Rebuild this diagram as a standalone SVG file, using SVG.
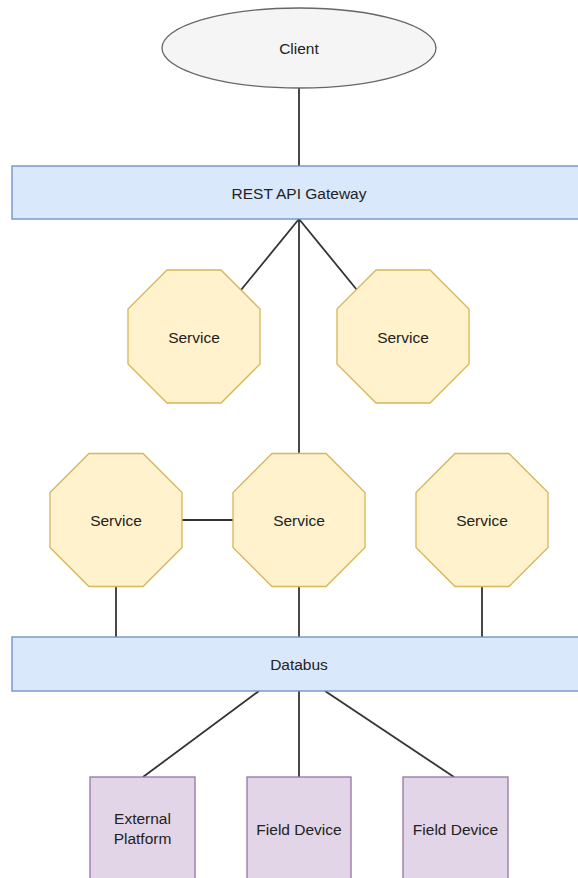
<svg xmlns="http://www.w3.org/2000/svg" xmlns:xlink="http://www.w3.org/1999/xlink" width="578" height="878" viewBox="0 0 578 878">
  <style>
    .lbl { font-family: "Liberation Sans", Arial, sans-serif; font-size: 15.5px; fill: #222222; text-anchor: middle; dominant-baseline: central; }
    .bus { fill: #dae8fc; stroke: #6c8ebf; stroke-width: 1.3; }
    .svc { fill: #fff2cc; stroke: #d6b656; stroke-width: 1.3; }
    .dev { fill: #e1d5e7; stroke: #9673a6; stroke-width: 1.3; }
    .client { fill: #f5f5f5; stroke: #666666; stroke-width: 1.3; }
    .edge { stroke: #333333; stroke-width: 1.8; fill: none; }
  </style>
  <defs>
    <!-- regular octagon, 132 x 133, centred on the origin -->
    <polygon id="octagon" points="-27,-66.5 27,-66.5 66,-27.5 66,27.5 27,66.5 -27,66.5 -66,27.5 -66,-27.5"/>
  </defs>
  <rect width="578" height="878" fill="#ffffff"/>

  <g id="connectors">
    <line class="edge" x1="299" y1="88" x2="299" y2="166"/>
    <line class="edge" x1="299" y1="219" x2="241" y2="290"/>
    <line class="edge" x1="299" y1="219" x2="357" y2="290"/>
    <line class="edge" x1="299" y1="219" x2="299" y2="454"/>
    <line class="edge" x1="182" y1="520" x2="233" y2="520"/>
    <line class="edge" x1="116" y1="586" x2="116" y2="637"/>
    <line class="edge" x1="299" y1="586" x2="299" y2="637"/>
    <line class="edge" x1="482" y1="586" x2="482" y2="637"/>
    <line class="edge" x1="259" y1="691" x2="143" y2="777"/>
    <line class="edge" x1="299" y1="691" x2="299" y2="777"/>
    <line class="edge" x1="325" y1="691" x2="454" y2="777"/>
  </g>

  <g id="client">
    <ellipse class="client" cx="299" cy="48" rx="137" ry="40"/>
    <text class="lbl" x="299" y="48">Client</text>
  </g>

  <g id="gateway">
    <rect class="bus" x="12" y="166" width="590" height="53"/>
    <text class="lbl" x="299" y="193">REST API Gateway</text>
  </g>

  <g id="service-1">
    <use xlink:href="#octagon" class="svc" x="194" y="336.5"/>
    <text class="lbl" x="194" y="337">Service</text>
  </g>
  <g id="service-2">
    <use xlink:href="#octagon" class="svc" x="403" y="336.5"/>
    <text class="lbl" x="403" y="337">Service</text>
  </g>
  <g id="service-3">
    <use xlink:href="#octagon" class="svc" x="116" y="520"/>
    <text class="lbl" x="116" y="520">Service</text>
  </g>
  <g id="service-4">
    <use xlink:href="#octagon" class="svc" x="299" y="520"/>
    <text class="lbl" x="299" y="520">Service</text>
  </g>
  <g id="service-5">
    <use xlink:href="#octagon" class="svc" x="482" y="520"/>
    <text class="lbl" x="482" y="520">Service</text>
  </g>

  <g id="databus">
    <rect class="bus" x="12" y="637" width="590" height="54"/>
    <text class="lbl" x="299" y="664">Databus</text>
  </g>

  <g id="external-platform">
    <rect class="dev" x="90" y="777" width="105" height="120"/>
    <text class="lbl" x="142.5" y="818">External</text>
    <text class="lbl" x="142.5" y="838">Platform</text>
  </g>
  <g id="field-device-1">
    <rect class="dev" x="247" y="777" width="104" height="120"/>
    <text class="lbl" x="299" y="829">Field Device</text>
  </g>
  <g id="field-device-2">
    <rect class="dev" x="403" y="777" width="105" height="120"/>
    <text class="lbl" x="455.5" y="829">Field Device</text>
  </g>
</svg>
